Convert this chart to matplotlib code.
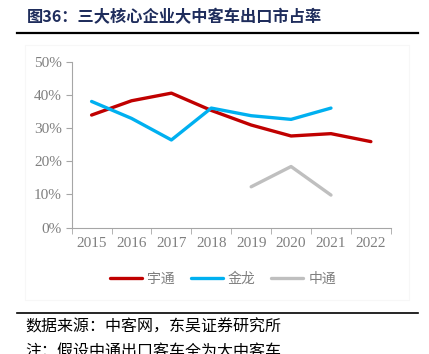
import matplotlib.pyplot as plt
from matplotlib.lines import Line2D
from matplotlib.patches import Rectangle

plt.rcParams['font.family'] = ['Noto Sans CJK SC', 'DejaVu Sans']

years = ['2015', '2016', '2017', '2018', '2019', '2020', '2021', '2022']
yutong = [33.9, 38.2, 40.5, 35.3, 30.9, 27.6, 28.3, 25.9]
jinlong = [38.0, 32.9, 26.4, 36.0, 33.7, 32.6, 36.0]
zhongtong = [12.3, 18.4, 9.8]
zt_years = ['2019', '2020', '2021']

fig = plt.figure(figsize=(4.29, 3.54), dpi=100)

# faint frame around the chart area
fig.add_artist(Rectangle((25 / 429, 1 - 300 / 354), 384 / 429, 255 / 354,
                         transform=fig.transFigure, fill=False,
                         edgecolor='#F7F7F7', lw=0.8))

ax = fig.add_axes([0.167, 0.357, 0.744, 0.469])

x = list(range(len(years)))
ax.plot(x, yutong, c='#C00000', lw=2.4, solid_capstyle='round', label='宇通')
ax.plot(x[:len(jinlong)], jinlong, c='#00B0F0', lw=2.4, solid_capstyle='round', label='金龙')
ax.plot([years.index(y) for y in zt_years], zhongtong, c='#BFBFBF', lw=2.4,
        solid_capstyle='round', label='中通')

ax.set_xlim(-0.5, len(years) - 0.5)
ax.set_ylim(0, 50)
ax.set_yticks(range(0, 51, 10))
ax.set_yticklabels([f'{v}%' for v in range(0, 51, 10)],
                   family='Liberation Serif', fontsize=11, color='#7F7F7F')
ax.set_xticks(x)
ax.set_xticklabels(years, family='Liberation Serif', fontsize=11, color='#7F7F7F')
ax.set_xticks([i - 0.5 for i in range(len(years) + 1)], minor=True)
ax.tick_params(axis='x', which='major', length=0, pad=7)
ax.tick_params(axis='x', which='minor', length=4, color='#A6A6A6', direction='out')
ax.tick_params(axis='y', length=4, color='#A6A6A6', pad=3)
for s in ['top', 'right']:
    ax.spines[s].set_visible(False)
for s in ['left', 'bottom']:
    ax.spines[s].set_color('#A6A6A6')
    ax.spines[s].set_linewidth(0.8)

leg = fig.legend(loc='center', bbox_to_anchor=(0.52, 0.212), ncol=3, frameon=False,
                 handlelength=2.3, handletextpad=0.36, columnspacing=1.15,
                 prop={'size': 10})
for t in leg.get_texts():
    t.set_color('#7F7F7F')

fig.text(0.063, 0.952, '图36：三大核心企业大中客车出口市占率', fontsize=11.7,
         fontweight='bold', color='#1F2D5C', va='center')
fig.add_artist(Line2D([0.04, 0.975], [0.907, 0.907], color='black', lw=1.6))
fig.add_artist(Line2D([0.04, 0.975], [0.117, 0.117], color='black', lw=1.2))
fig.text(0.06, 0.076, '数据来源：中客网，东吴证券研究所', fontsize=11.5, color='black', va='center')
fig.text(0.06, 0.005, '注：假设中通出口客车全为大中客车', fontsize=11.5, color='black', va='center')

fig.savefig('out.png', dpi=100)
